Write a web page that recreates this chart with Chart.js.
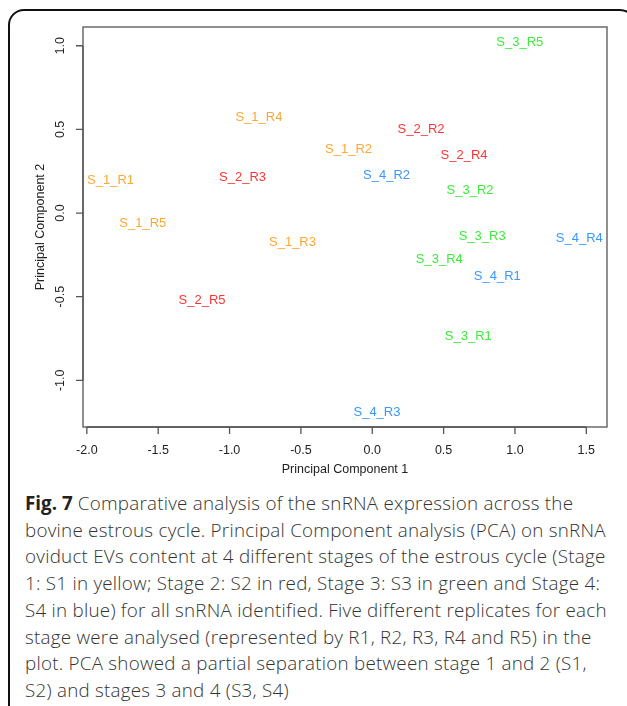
<!DOCTYPE html>
<html>
<head>
<meta charset="utf-8">
<script src="https://cdn.jsdelivr.net/npm/chart.js@4"></script>
<style>
    body { margin: 0; background: #fff; }
    #page { position: relative; width: 627px; height: 706px; overflow: hidden; background: #fff; }
    #frame { position: absolute; left: 8px; top: 9px; width: 628px; height: 740px; border: 2px solid #111; border-radius: 16px; box-sizing: border-box; }
    #plot { position: absolute; left: 0; top: 0; width: 627px; height: 480px; }
    #caption { position: absolute; left: 25px; top: 490px; font-family: "Open Sans", sans-serif; font-weight: 300; font-size: 18.8px; letter-spacing: 0.25px; line-height: 26.7px; color: #333; white-space: nowrap; }
    #caption b { font-weight: 700; letter-spacing: 0; color: #222; }
</style>
</head>
<body>
<div id="page">
    <div id="frame"></div>
    <div id="plot"><canvas id="pca-chart"></canvas></div>
    <div id="caption"><b>Fig. 7</b> Comparative analysis of the snRNA expression across the<br>bovine estrous cycle. Principal Component analysis (PCA) on snRNA<br>oviduct EVs content at 4 different stages of the estrous cycle (Stage<br>1: S1 in yellow; Stage 2: S2 in red, Stage 3: S3 in green and Stage 4:<br>S4 in blue) for all snRNA identified. Five different replicates for each<br>stage were analysed (represented by R1, R2, R3, R4 and R5) in the<br>plot. PCA showed a partial separation between stage 1 and 2 (S1,<br>S2) and stages 3 and 4 (S3, S4)</div>
</div>
<script>
// start: data
const stage1Names = ['S_1_R1', 'S_1_R2', 'S_1_R3', 'S_1_R4', 'S_1_R5'];
const stage1PC1 = [-1.834, -0.166, -0.559, -0.794, -1.608];
const stage1PC2 = [0.199, 0.389, -0.167, 0.575, -0.056];

const stage2Names = ['S_2_R2', 'S_2_R3', 'S_2_R4', 'S_2_R5'];
const stage2PC1 = [0.342, -0.909, 0.643, -1.193];
const stage2PC2 = [0.505, 0.219, 0.353, -0.515];

const stage3Names = ['S_3_R1', 'S_3_R2', 'S_3_R3', 'S_3_R4', 'S_3_R5'];
const stage3PC1 = [0.673, 0.685, 0.770, 0.470, 1.034];
const stage3PC2 = [-0.729, 0.140, -0.134, -0.274, 1.028];

const stage4Names = ['S_4_R1', 'S_4_R2', 'S_4_R3', 'S_4_R4'];
const stage4PC1 = [0.876, 0.100, 0.033, 1.451];
const stage4PC2 = [-0.375, 0.229, -1.184, -0.144];

const xTicks = [-2.0, -1.5, -1.0, -0.5, 0.0, 0.5, 1.0, 1.5];
const yTicks = [-1.0, -0.5, 0.0, 0.5, 1.0];
// end: data

const axisFont = '12.5px "Liberation Sans", Arial, sans-serif';
const labelFont = '13px "Liberation Sans", Arial, sans-serif';

function points(xs, ys) {
    return xs.map((x, i) => ({ x: x, y: ys[i] }));
}

function stageSet(names, xs, ys, color) {
    return {
        data: points(xs, ys),
        names: names,
        color: color,
        pointRadius: 0,
        pointHoverRadius: 0,
        showLine: false
    };
}

// R style box, ticks, titles and text labels
const rPlot = {
    id: 'rPlot',
    afterDatasetsDraw(chart) {
        const ctx = chart.ctx;
        const area = chart.chartArea;
        const xs = chart.scales.x;
        const ys = chart.scales.y;
        ctx.save();

        // text labels at the data points
        ctx.font = labelFont;
        ctx.textAlign = 'center';
        ctx.textBaseline = 'middle';
        chart.data.datasets.forEach((ds, i) => {
            ctx.fillStyle = ds.color;
            chart.getDatasetMeta(i).data.forEach((pt, j) => {
                ctx.fillText(ds.names[j], pt.x, pt.y + 1);
            });
        });

        // box
        ctx.strokeStyle = '#555';
        ctx.lineWidth = 1.3;
        ctx.strokeRect(area.left, area.top, area.right - area.left, area.bottom - area.top);

        // x axis
        ctx.fillStyle = '#222';
        ctx.font = axisFont;
        ctx.beginPath();
        ctx.moveTo(xs.getPixelForValue(xTicks[0]), area.bottom);
        ctx.lineTo(xs.getPixelForValue(xTicks[xTicks.length - 1]), area.bottom);
        xTicks.forEach(v => {
            const px = xs.getPixelForValue(v);
            ctx.moveTo(px, area.bottom);
            ctx.lineTo(px, area.bottom + 7);
            ctx.fillText(v.toFixed(1), px, area.bottom + 24);
        });
        ctx.stroke();
        ctx.fillText('Principal Component 1', (area.left + area.right) / 2, area.bottom + 43);

        // y axis
        ctx.beginPath();
        ctx.moveTo(area.left, ys.getPixelForValue(yTicks[0]));
        ctx.lineTo(area.left, ys.getPixelForValue(yTicks[yTicks.length - 1]));
        yTicks.forEach(v => {
            const py = ys.getPixelForValue(v);
            ctx.moveTo(area.left, py);
            ctx.lineTo(area.left - 7, py);
            ctx.save();
            ctx.translate(area.left - 22, py);
            ctx.rotate(-Math.PI / 2);
            ctx.fillText(v.toFixed(1), 0, 0);
            ctx.restore();
        });
        ctx.stroke();
        ctx.save();
        ctx.translate(area.left - 42, (area.top + area.bottom) / 2);
        ctx.rotate(-Math.PI / 2);
        ctx.fillText('Principal Component 2', 0, 0);
        ctx.restore();

        ctx.restore();
    }
};

const pcaChart = new Chart(document.getElementById('pca-chart'), {
    type: 'scatter',
    data: {
        datasets: [
            stageSet(stage1Names, stage1PC1, stage1PC2, '#ffa733'),
            stageSet(stage2Names, stage2PC1, stage2PC2, '#ff3535'),
            stageSet(stage3Names, stage3PC1, stage3PC2, '#3ced3c'),
            stageSet(stage4Names, stage4PC1, stage4PC2, '#3a97ff')
        ]
    },
    options: {
        responsive: true,
        maintainAspectRatio: false,
        animation: false,
        layout: {
            padding: { left: 83, right: 20, top: 27, bottom: 53 }
        },
        scales: {
            x: { display: false, min: -2.027, max: 1.645 },
            y: { display: false, min: -1.279, max: 1.112 }
        },
        plugins: {
            legend: { display: false },
            tooltip: { enabled: false }
        }
    },
    plugins: [rPlot]
});
</script>
</body>
</html>
